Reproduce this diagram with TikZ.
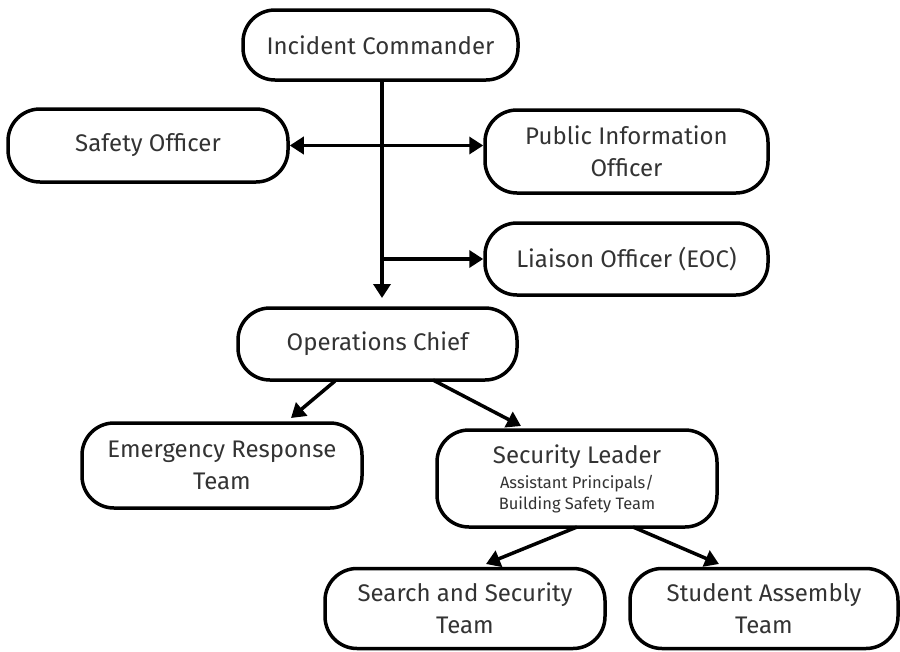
\documentclass[tikz,border=0pt]{standalone}
\usepackage{fontspec}
\setmainfont{Fira Sans}
\usetikzlibrary{arrows.meta}
\definecolor{txt}{HTML}{333333}
\newcommand{\smallsub}{\fontsize{16.5}{21}\selectfont}
\begin{document}
\begin{tikzpicture}[x=1pt,y=-1pt,
  box/.style={draw=black, line width=3.5pt, rounded corners=32pt, fill=white,
    text=txt, align=center, font=\fontsize{24}{32}\selectfont, inner sep=0pt},
  conn/.style={line width=3.5pt, -{Triangle[length=14pt,width=17pt]}},
  bconn/.style={line width=3.5pt, {Triangle[length=14pt,width=17pt]}-{Triangle[length=14pt,width=17pt]}}]
\useasboundingbox (0,0) rectangle (900,651);
\node[box, minimum width=275pt, minimum height=70pt] (ic) at (380.5,45) {Incident Commander};
\node[box, minimum width=280pt, minimum height=73pt] (so) at (148,145.5) {Safety Officer};
\node[box, minimum width=283pt, minimum height=83pt] (pio) at (626.5,151.5) {Public Information\\Officer};
\node[box, minimum width=283pt, minimum height=72pt] (lo) at (626.5,259) {Liaison Officer (EOC)};
\node[box, minimum width=279pt, minimum height=72pt] (oc) at (377.5,344) {Operations Chief};
\node[box, minimum width=280pt, minimum height=85pt] (ert) at (222,465.5) {Emergency Response\\Team};
\node[box, minimum width=280pt, minimum height=97pt] (sl) at (577,478.5)
  {Security Leader\\[-7pt]\smallsub Assistant Principals/\\[-11pt]\smallsub Building Safety Team};
\node[box, minimum width=280pt, minimum height=80pt] (sst) at (465,608.5) {Search and Security\\Team};
\node[box, minimum width=268pt, minimum height=80pt] (sat) at (764,608.5) {Student Assembly\\Team};
\coordinate (vtop) at (382,80);
\coordinate (vbot) at (382,298);
\coordinate (lj) at (382,259);
\draw[conn] (vtop) -- (vbot);
\draw[bconn] (so.east) -- (so.east -| pio.west);
\draw[conn] (lj) -- (lo.west);
\coordinate (oc1) at (335,381);
\coordinate (oc2) at (433,380);
\coordinate (e1) at (291,418);
\coordinate (s1) at (521,426);
\draw[conn] (oc1) -- (e1);
\draw[conn] (oc2) -- (s1);
\coordinate (sl1) at (577,527);
\coordinate (sl2) at (633,527);
\coordinate (t1) at (486,564);
\coordinate (t2) at (719,564);
\draw[conn] (sl1) -- (t1);
\draw[conn] (sl2) -- (t2);
\end{tikzpicture}
\end{document}
